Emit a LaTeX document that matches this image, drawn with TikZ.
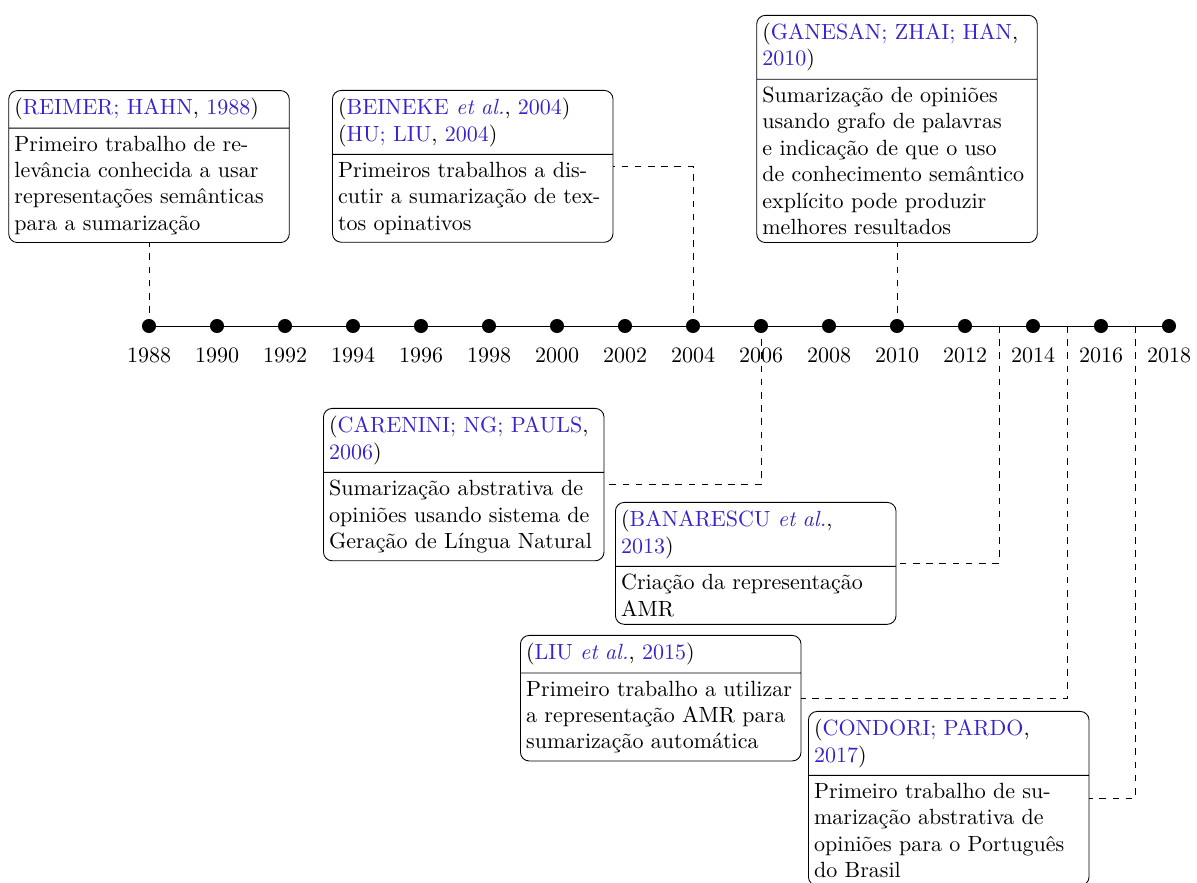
\documentclass[tikz,border=0pt]{standalone}
\usepackage{fontspec}
\usetikzlibrary{shapes.multipart}
\definecolor{citeblue}{RGB}{55,35,205}
\newcommand{\cit}[1]{\textcolor{citeblue}{#1}}
\tikzset{
  entry/.style={rectangle split, rectangle split parts=2, draw, rounded corners=4pt,
    text width=4.3cm, inner xsep=2.6pt, align=left, font=\normalsize},
  link/.style={dashed},
  yeardot/.style={circle, fill, inner sep=0pt, minimum size=6.4pt},
  yearlabel/.style={inner sep=0pt}
}
\begin{document}
\begin{tikzpicture}[x=0.454545pt, y=-0.454545pt]
\useasboundingbox (0,0) rectangle (1197,883);

% timeline positions (one per year)
\foreach \yr in {1988,...,2018} {
  \pgfmathsetmacro{\px}{149+(\yr-1988)*34}
  \coordinate (t\yr) at (\px,326);
}
\draw (t1988) -- (t2018);
\foreach \yr in {1988,1990,...,2018} {
  \pgfmathsetmacro{\px}{149+(\yr-1988)*34}
  \node[yeardot] (d\yr) at (t\yr) {};
  \node[yearlabel] (l\yr) at (\px,355) {\yr};
}

% milestone boxes
\node[entry, anchor=south] (reimer) at (149,243)
  {(\cit{REIMER; HAHN}, \cit{1988})
   \nodepart{two}
   Primeiro trabalho de re-\\levância conhecida a usar\\representações semânticas\\para a sumarização};

\node[entry, anchor=north west] (beineke) at (332,90)
  {(\cit{BEINEKE \textit{et al.}}, \cit{2004})\\(\cit{HU; LIU}, \cit{2004})
   \nodepart{two}
   Primeiros trabalhos a dis-\\cutir a sumarização de tex-\\tos opinativos};

\node[entry, anchor=south] (ganesan) at (897,243)
  {(\cit{GANESAN; ZHAI; HAN},\\\cit{2010})
   \nodepart{two}
   Sumarização de opiniões\\usando grafo de palavras\\e indicação de que o uso\\de conhecimento semântico\\explícito pode produzir\\melhores resultados};

\node[entry, anchor=north west] (carenini) at (323,408)
  {(\cit{CARENINI; NG; PAULS},\\\cit{2006})
   \nodepart{two}
   Sumarização abstrativa de\\opiniões usando sistema de\\Geração de Língua Natural};

\node[entry, anchor=north west] (banarescu) at (615,502)
  {(\cit{BANARESCU \textit{et al.}},\\\cit{2013})
   \nodepart{two}
   Criação da representação\\AMR};

\node[entry, anchor=north west] (liu) at (520,635)
  {(\cit{LIU \textit{et al.}}, \cit{2015})
   \nodepart{two}
   Primeiro trabalho a utilizar\\a representação AMR para\\sumarização automática};

\node[entry, anchor=north west] (condori) at (808,711)
  {(\cit{CONDORI; PARDO},\\\cit{2017})
   \nodepart{two}
   Primeiro trabalho de su-\\marização abstrativa de\\opiniões para o Português\\do Brasil};

% connectors from the timeline to the boxes
\draw[link] (t1988) -- (reimer.south);
\draw[link] (t2004) |- (beineke.east);
\draw[link] (t2010) -- (ganesan.south);
\draw[link] (t2006) |- (carenini.east);
\draw[link] (t2013) |- (banarescu.east);
\draw[link] (t2015) |- (liu.east);
\draw[link] (t2017) |- (condori.east);
\end{tikzpicture}
\end{document}
